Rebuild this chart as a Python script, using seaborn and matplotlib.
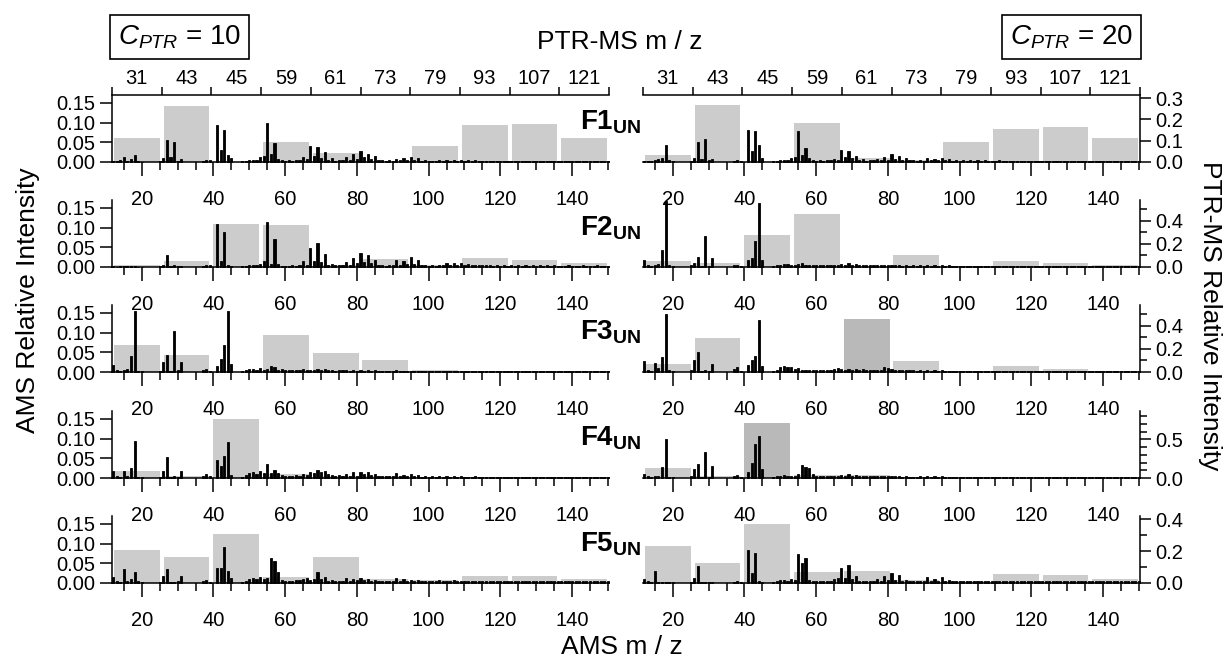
import numpy as np
import pandas as pd
import matplotlib
matplotlib.use("Agg")
import matplotlib.pyplot as plt
import seaborn as sns
from matplotlib.ticker import FixedLocator, FixedFormatter, NullFormatter, FormatStrFormatter

# ---------------- data ----------------
ptr_labels = ["31", "43", "45", "59", "61", "73", "79", "93", "107", "121"]

ams_mz = ([12, 13, 14, 15, 16, 17, 18, 19, 20] + [25, 26, 27, 28, 29, 30, 31]
          + [37, 38, 39] + [41, 42, 43, 44, 45] + list(range(48, 151)))

# C_PTR = 10 : AMS spectra (left column)
ams_c10_f1 = [.003, .002, .004, .012, .003, .008, .018, .002, .001,
              .002, .010, .055, .012, .050, .003, .008,
              .003, .005, .004,
              .095, .030, .082, .018, .010,
              .002, .003, .005, .004, .006, .012, .016, .100, .020, .047,
              .008, .004, .003, .004, .003, .005, .004, .012, .008, .040,
              .014, .037, .010, .025, .004, .010, .003, .006, .004, .012,
              .006, .020, .008, .028, .012, .020, .008, .015, .004, .005,
              .003, .004, .003, .008, .004, .010, .004, .012, .004, .010,
              .003, .004, .002, .003, .002, .004, .003, .006, .003, .005,
              .002, .004, .003, .005, .002, .004, .002, .003, .002, .003,
              .002, .003, .002, .003, .002, .003, .002, .003, .002, .003,
              .002, .002, .002, .003, .002, .003, .002, .002, .002, .002,
              .002, .002, .002, .002, .002, .002, .002, .002, .002, .002,
              .002, .002, .002]
ams_c10_f2 = [.002, .001, .002, .002, .002, .002, .002, .001, .001,
              .002, .004, .030, .003, .006, .002, .003,
              .002, .004, .004,
              .110, .015, .088, .004, .002,
              .002, .003, .004, .006, .005, .008, .014, .113, .008, .070,
              .008, .003, .003, .003, .004, .003, .005, .015, .006, .047,
              .015, .060, .012, .034, .006, .008, .004, .005, .004, .012,
              .006, .022, .010, .036, .012, .030, .010, .017, .004, .004,
              .003, .005, .004, .018, .006, .015, .008, .025, .008, .018,
              .004, .006, .003, .004, .003, .004, .005, .010, .005, .010,
              .004, .010, .005, .008, .004, .006, .004, .006, .004, .005,
              .003, .005, .003, .004, .003, .005, .003, .004, .003, .004,
              .003, .004, .003, .004, .003, .004, .003, .004, .003, .003,
              .003, .004, .003, .003, .003, .004, .003, .003, .003, .004,
              .003, .003, .003]
ams_c10_f3 = [.019, .005, .002, .005, .008, .041, .156, .003, .002,
              .003, .025, .042, .003, .105, .004, .025,
              .004, .008, .003,
              .016, .033, .068, .156, .020,
              .002, .004, .008, .008, .006, .010, .006, .008, .015, .012,
              .006, .008, .004, .005, .004, .006, .004, .007, .004, .005,
              .004, .008, .004, .007, .004, .006, .003, .005, .004, .004,
              .003, .005, .003, .005, .003, .004, .003, .004, .003, .003,
              .003, .003, .002, .004, .002, .003, .002, .003, .002, .003,
              .002, .002, .002, .002, .002, .002, .002, .002, .002, .002,
              .002, .002, .002, .002, .002, .002, .002, .002, .002, .002,
              .002, .002, .002, .002, .002, .002, .002, .002, .002, .002,
              .002, .002, .002, .002, .002, .002, .002, .002, .002, .002,
              .002, .002, .002, .002, .002, .002, .002, .002, .002, .002,
              .002, .002, .002]
ams_c10_f4 = [.019, .004, .002, .019, .005, .025, .094, .003, .002,
              .003, .017, .054, .002, .006, .003, .018,
              .005, .010, .004,
              .045, .030, .057, .091, .007,
              .003, .008, .012, .015, .010, .018, .012, .036, .012, .020,
              .012, .008, .006, .006, .005, .007, .006, .010, .008, .015,
              .012, .020, .014, .018, .010, .008, .006, .008, .006, .010,
              .006, .014, .006, .016, .010, .014, .008, .010, .005, .006,
              .004, .005, .004, .012, .005, .008, .004, .010, .004, .008,
              .003, .004, .003, .004, .003, .004, .003, .005, .003, .004,
              .003, .004, .003, .003, .003, .004, .003, .003, .003, .003,
              .003, .003, .003, .003, .003, .003, .003, .003, .003, .003,
              .003, .003, .003, .003, .003, .003, .003, .003, .003, .003,
              .003, .003, .003, .003, .003, .003, .003, .003, .003, .003,
              .003, .003, .003]
ams_c10_f5 = [.014, .006, .002, .036, .005, .009, .027, .004, .003,
              .003, .017, .036, .002, .003, .004, .017,
              .006, .008, .003,
              .039, .038, .091, .030, .012,
              .003, .006, .011, .013, .010, .014, .010, .012, .064, .057,
              .029, .008, .005, .006, .006, .007, .008, .010, .012, .008,
              .010, .028, .010, .016, .006, .008, .005, .006, .005, .012,
              .006, .010, .008, .012, .008, .010, .006, .008, .005, .006,
              .005, .006, .005, .012, .006, .010, .005, .008, .005, .008,
              .005, .006, .005, .006, .005, .008, .005, .006, .005, .007,
              .005, .006, .004, .006, .004, .006, .004, .006, .004, .005,
              .004, .005, .004, .005, .004, .005, .004, .005, .004, .005,
              .004, .005, .004, .005, .004, .005, .004, .004, .004, .005,
              .004, .004, .004, .004, .004, .005, .004, .004, .004, .004,
              .004, .004, .004]

# C_PTR = 20 : AMS spectra (right column)
ams_c20_f1 = [.003, .002, .003, .005, .008, .010, .042, .004, .002,
              .003, .010, .051, .008, .059, .004, .008,
              .003, .005, .003,
              .080, .028, .079, .042, .011,
              .002, .003, .005, .006, .006, .010, .012, .079, .018, .036,
              .010, .004, .003, .004, .003, .004, .004, .008, .006, .030,
              .012, .028, .010, .015, .004, .008, .003, .005, .004, .008,
              .004, .012, .006, .020, .008, .016, .006, .010, .004, .004,
              .003, .004, .003, .010, .004, .008, .004, .010, .004, .008,
              .003, .004, .003, .004, .003, .004, .003, .005, .003, .004,
              .003, .003, .003, .004, .003, .003, .003, .003, .003, .003,
              .003, .003, .003, .003, .003, .003, .003, .003, .003, .003,
              .003, .003, .003, .003, .003, .003, .003, .003, .003, .003,
              .003, .003, .003, .003, .003, .003, .003, .003, .003, .003,
              .003, .003, .003]
ams_c20_f2 = [.019, .006, .002, .004, .008, .044, .168, .004, .002,
              .005, .010, .025, .002, .078, .003, .023,
              .005, .006, .002,
              .017, .024, .066, .162, .019,
              .003, .004, .006, .008, .008, .005, .004, .008, .010, .006,
              .005, .004, .004, .005, .004, .005, .004, .006, .004, .008,
              .004, .010, .005, .008, .004, .006, .004, .005, .004, .005,
              .004, .005, .004, .005, .004, .005, .003, .004, .003, .004,
              .003, .004, .003, .004, .003, .005, .003, .004, .003, .004,
              .003, .003, .003, .003, .003, .003, .003, .003, .003, .003,
              .003, .003, .003, .003, .003, .003, .003, .003, .003, .003,
              .003, .003, .003, .003, .003, .003, .003, .003, .003, .003,
              .003, .003, .003, .003, .003, .003, .003, .003, .003, .003,
              .003, .003, .003, .003, .003, .003, .003, .003, .003, .003,
              .003, .003, .003]
ams_c20_f3 = [.027, .006, .002, .023, .010, .037, .147, .004, .002,
              .004, .030, .051, .003, .004, .003, .021,
              .008, .013, .003,
              .019, .030, .041, .133, .016,
              .003, .004, .012, .015, .013, .012, .008, .010, .006, .005,
              .004, .006, .004, .006, .004, .006, .005, .008, .010, .008,
              .006, .008, .006, .007, .005, .008, .005, .006, .006, .006,
              .005, .012, .010, .008, .005, .006, .004, .005, .004, .004,
              .003, .004, .003, .005, .003, .004, .003, .004, .003, .003,
              .003, .003, .003, .003, .003, .003, .003, .003, .003, .003,
              .003, .003, .003, .003, .003, .003, .003, .003, .003, .003,
              .003, .003, .003, .003, .003, .003, .003, .003, .003, .003,
              .003, .003, .003, .003, .003, .003, .003, .003, .003, .003,
              .003, .003, .003, .003, .003, .003, .003, .003, .003, .003,
              .003, .003, .003]
ams_c20_f4 = [.011, .004, .002, .005, .006, .028, .098, .003, .002,
              .004, .022, .036, .002, .066, .003, .030,
              .006, .008, .002,
              .015, .038, .087, .107, .024,
              .003, .004, .006, .007, .006, .005, .005, .010, .034, .028,
              .026, .010, .006, .005, .005, .006, .005, .006, .006, .008,
              .005, .010, .006, .008, .005, .006, .004, .006, .005, .006,
              .004, .006, .004, .006, .004, .005, .003, .004, .003, .003,
              .003, .004, .003, .004, .003, .004, .003, .004, .003, .003,
              .003, .003, .003, .003, .003, .003, .003, .003, .003, .003,
              .003, .003, .003, .003, .003, .003, .003, .003, .003, .003,
              .003, .003, .003, .003, .003, .003, .003, .003, .003, .003,
              .003, .003, .003, .003, .003, .003, .003, .003, .003, .003,
              .003, .003, .003, .003, .003, .003, .003, .003, .003, .003,
              .003, .003, .003]
ams_c20_f5 = [.009, .004, .002, .030, .003, .003, .003, .003, .002,
              .003, .013, .043, .002, .003, .003, .003,
              .002, .005, .003,
              .085, .025, .076, .004, .003,
              .003, .005, .007, .008, .006, .010, .008, .074, .051, .064,
              .008, .004, .004, .005, .005, .006, .006, .010, .012, .039,
              .012, .045, .010, .018, .004, .006, .004, .005, .004, .010,
              .006, .018, .008, .026, .008, .020, .006, .008, .004, .005,
              .004, .005, .004, .014, .006, .010, .006, .016, .006, .008,
              .004, .005, .004, .005, .004, .006, .004, .006, .004, .006,
              .004, .005, .004, .005, .004, .005, .004, .005, .004, .004,
              .004, .004, .004, .004, .004, .004, .004, .004, .004, .004,
              .004, .004, .004, .004, .004, .004, .004, .004, .004, .004,
              .004, .004, .004, .004, .004, .004, .004, .004, .004, .004,
              .004, .004, .004]

# PTR-MS bars
ptr_c10_f1 = [0.061, 0.142, 0.000, 0.052, 0.023, 0.000, 0.041, 0.093, 0.096, 0.061]
ptr_c10_f2 = [0.004, 0.014, 0.110, 0.107, 0.005, 0.021, 0.006, 0.022, 0.017, 0.010]
ptr_c10_f3 = [0.069, 0.044, 0.000, 0.093, 0.047, 0.031, 0.006, 0.003, 0.002, 0.002]
ptr_c10_f4 = [0.018, 0.006, 0.149, 0.010, 0.005, 0.004, 0.002, 0.002, 0.002, 0.002]
ptr_c10_f5 = [0.085, 0.066, 0.124, 0.014, 0.065, 0.009, 0.008, 0.019, 0.017, 0.010]

ptr_c20_f1 = [0.033, 0.267, 0.000, 0.185, 0.020, 0.010, 0.094, 0.153, 0.164, 0.111]
ptr_c20_f2 = [0.049, 0.037, 0.273, 0.454, 0.005, 0.100, 0.010, 0.049, 0.035, 0.020]
ptr_c20_f3 = [0.069, 0.293, 0.000, 0.000, 0.460, 0.098, 0.005, 0.049, 0.030, 0.005]
ptr_c20_f4 = [0.130, 0.030, 0.720, 0.040, 0.040, 0.010, 0.005, 0.005, 0.005, 0.005]
ptr_c20_f5 = [0.229, 0.125, 0.367, 0.069, 0.073, 0.017, 0.010, 0.054, 0.048, 0.027]

factor_names = ["F1", "F2", "F3", "F4", "F5"]
c_values = ["10", "20"]

AMS = [[ams_c10_f1, ams_c10_f2, ams_c10_f3, ams_c10_f4, ams_c10_f5],
       [ams_c20_f1, ams_c20_f2, ams_c20_f3, ams_c20_f4, ams_c20_f5]]
PTR = [[ptr_c10_f1, ptr_c10_f2, ptr_c10_f3, ptr_c10_f4, ptr_c10_f5],
       [ptr_c20_f1, ptr_c20_f2, ptr_c20_f3, ptr_c20_f4, ptr_c20_f5]]

# ---------------- style ----------------
sns.set_theme(style="ticks", rc={
    "axes.edgecolor": "black", "axes.linewidth": 1.1,
    "xtick.color": "black", "ytick.color": "black",
    "text.color": "black", "axes.labelcolor": "black",
})
plt.rcParams["font.family"] = ["Liberation Sans", "DejaVu Sans"]
plt.rcParams["mathtext.fontset"] = "custom"
plt.rcParams["mathtext.rm"] = "Liberation Sans"
plt.rcParams["mathtext.it"] = "Liberation Sans:italic"
plt.rcParams["mathtext.bf"] = "Liberation Sans:bold"

W, H = 1227, 661
fig = plt.figure(figsize=(W / 100, H / 100), dpi=100)
fig.patch.set_facecolor("white")

col_x = [112, 643]
row_zero = [162, 267, 372, 478, 583]
AX_W, AX_H = 497, 67
AMS_TOP = 0.17
TICK_FS = 14.5

ptr_ylim = [0.315, 0.578, 0.578, 0.87, 0.42]
ptr_major = [[0, .1, .2, .3], [0, .2, .4], [0, .2, .4], [0, .5], [0, .2, .4]]
ptr_minor = [[], [.1, .3, .5], [.1, .3, .5], [.1, .2, .3, .4, .6, .7, .8], [.1, .3]]
LIGHT, DARK = "#cccccc", "#b9b9b9"
dark_bars = {(1, 2, 4), (1, 3, 2)}
LW = 1.1

for c in range(2):
    for r in range(5):
        rect = [col_x[c] / W, (H - row_zero[r]) / H, AX_W / W, AX_H / H]
        axp = fig.add_axes(rect)
        ax = fig.add_axes(rect)
        axp.patch.set_visible(False)
        ax.patch.set_visible(False)

        # PTR-MS bars (categorical)
        cols = [DARK if (c, r, i) in dark_bars else LIGHT for i in range(len(ptr_labels))]
        sns.barplot(x=ptr_labels, y=PTR[c][r], hue=ptr_labels, order=ptr_labels,
                    hue_order=ptr_labels, palette=cols, legend=False, width=0.92,
                    saturation=1, errorbar=None, linewidth=0, ax=axp)
        axp.set_xlim(-0.5, 9.5)
        axp.set_ylim(0, AMS_TOP if c == 0 else ptr_ylim[r])
        axp.set_xlabel("")
        axp.set_ylabel("")

        # AMS sticks (numeric m/z)
        df = pd.DataFrame({"mz": ams_mz, "val": AMS[c][r]})
        sns.barplot(data=df, x="mz", y="val", native_scale=True, width=0.6,
                    color="black", edgecolor="black", linewidth=0.6,
                    saturation=1, errorbar=None, ax=ax)
        for p in ax.patches:
            p.set_clip_on(False)
        ax.set_xlim(11.7, 150.3)
        ax.set_ylim(0, AMS_TOP)
        ax.set_xlabel("")
        ax.set_ylabel("")

        # spines
        for a in (ax, axp):
            for s in a.spines.values():
                s.set_visible(False)
                s.set_linewidth(LW)
        ax.spines["bottom"].set_visible(True)
        if c == 0:
            ax.spines["left"].set_visible(True)
        else:
            axp.spines["right"].set_visible(True)
        if r == 0:
            axp.spines["top"].set_visible(True)

        # AMS x ticks
        ax.xaxis.set_major_locator(FixedLocator([20, 40, 60, 80, 100, 120, 140]))
        ax.xaxis.set_major_formatter(FormatStrFormatter("%d"))
        ax.xaxis.set_minor_locator(FixedLocator([m for m in range(15, 151, 5) if m % 20 != 0]))
        ax.tick_params(axis="x", which="major", bottom=True, top=False, direction="out",
                       length=10, width=LW, pad=10, labelsize=TICK_FS)
        ax.tick_params(axis="x", which="minor", bottom=True, top=False, direction="out",
                       length=5.5, width=LW)

        # AMS y ticks
        if c == 0:
            ax.yaxis.set_major_locator(FixedLocator([0, 0.05, 0.10, 0.15]))
            ax.yaxis.set_major_formatter(FormatStrFormatter("%.2f"))
            ax.tick_params(axis="y", which="major", left=True, right=False, direction="out",
                           length=9, width=LW, pad=3, labelsize=TICK_FS)
            ax.tick_params(axis="y", which="minor", left=False, right=False)
        else:
            ax.tick_params(axis="y", which="both", left=False, right=False,
                           labelleft=False, labelright=False)

        # PTR x ticks (top axis on first row)
        if r == 0:
            axp.xaxis.set_major_locator(FixedLocator(np.arange(-0.5, 10, 1.0)))
            axp.xaxis.set_major_formatter(NullFormatter())
            axp.xaxis.set_minor_locator(FixedLocator(range(len(ptr_labels))))
            axp.xaxis.set_minor_formatter(FixedFormatter(ptr_labels))
            axp.tick_params(axis="x", which="major", top=True, bottom=False, labeltop=False,
                            labelbottom=False, direction="out", length=6, width=LW)
            axp.tick_params(axis="x", which="minor", top=True, bottom=False, labeltop=True,
                            labelbottom=False, length=0, pad=5, labelsize=TICK_FS)
        else:
            axp.tick_params(axis="x", which="both", top=False, bottom=False,
                            labeltop=False, labelbottom=False)

        # PTR y ticks
        if c == 1:
            axp.yaxis.set_major_locator(FixedLocator(ptr_major[r]))
            axp.yaxis.set_minor_locator(FixedLocator(ptr_minor[r]))
            axp.yaxis.set_major_formatter(FormatStrFormatter("%.1f"))
            axp.tick_params(axis="y", which="major", left=False, right=True, labelleft=False,
                            labelright=True, direction="out", length=8, width=LW, pad=3,
                            labelsize=TICK_FS)
            axp.tick_params(axis="y", which="minor", left=False, right=True, direction="out",
                            length=5, width=LW)
        else:
            axp.tick_params(axis="y", which="both", left=False, right=False,
                            labelleft=False, labelright=False)

# factor labels
for r in range(5):
    fig.text(641 / W, (H - (row_zero[r] - 32)) / H,
             r"$\mathbf{" + factor_names[r] + r"}_{\mathbf{UN}}$",
             ha="right", va="baseline", fontsize=20)

# C_PTR boxes
box = dict(boxstyle="square,pad=0.3", fc="white", ec="black", lw=1.2)
fig.text(118 / W, (H - 37) / H, r"$C_{PTR}$ = " + c_values[0], ha="left", va="center",
         fontsize=20, bbox=box)
fig.text(1133 / W, (H - 37) / H, r"$C_{PTR}$ = " + c_values[1], ha="right", va="center",
         fontsize=20, bbox=box)

# axis titles
fig.text(620 / W, (H - 42) / H, "PTR-MS m / z", ha="center", va="center", fontsize=19)
fig.text(622 / W, (H - 647) / H, "AMS m / z", ha="center", va="center", fontsize=19)
fig.text(28 / W, (H - 300) / H, "AMS Relative Intensity", rotation=90,
         ha="center", va="center", fontsize=19)
fig.text(1210 / W, (H - 316) / H, "PTR-MS Relative Intensity", rotation=-90,
         ha="center", va="center", fontsize=19)

fig.savefig("out.png", dpi=100)
